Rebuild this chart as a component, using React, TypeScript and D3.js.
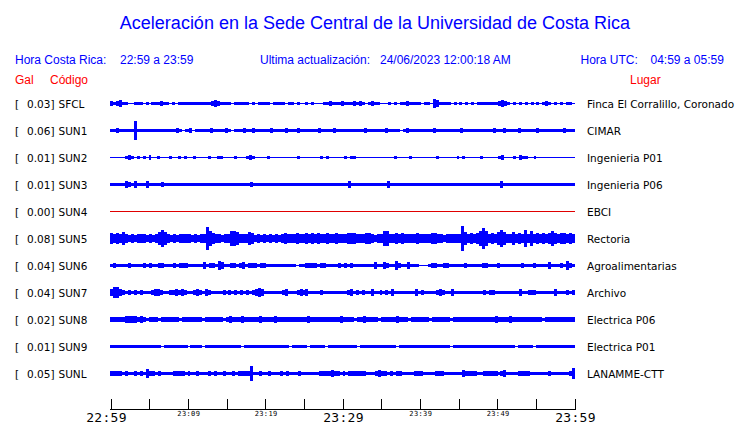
import React from "react";
import * as d3 from "d3";

const W = 740;
const H = 423;

const titleText = "Aceleración en la Sede Central de la Universidad de Costa Rica";
const headerLeftLabel = "Hora Costa Rica:";
const headerLeftValue = "22:59 a 23:59";
const headerMidLabel = "Ultima actualización:";
const headerMidValue = "24/06/2023 12:00:18 AM";
const headerRightLabel = "Hora UTC:";
const headerRightValue = "04:59 a 05:59";

const stations = ["SFCL", "SUN1", "SUN2", "SUN3", "SUN4", "SUN5", "SUN6", "SUN7", "SUN8", "SUN9", "SUNL"];
const peakGal = ["0.03", "0.06", "0.01", "0.01", "0.00", "0.08", "0.04", "0.04", "0.02", "0.01", "0.05"];
const places = [
  "Finca El Corralillo, Coronado",
  "CIMAR",
  "Ingenieria P01",
  "Ingenieria P06",
  "EBCI",
  "Rectoria",
  "Agroalimentarias",
  "Archivo",
  "Electrica P06",
  "Electrica P01",
  "LANAMME-CTT",
];

// Envelope half-amplitudes (px), one character per ~3 px of time, base-36 digits
const envSFCL = [
  "2123110011101011121101011111111111232111101",
  "11110101111011110110100101000112111211121",
  "210121100010101121111011043111101010101",
  "0111111123210101010101012101010110",
];
const envSUN1 = [
  "112111119111111111111121012011111211112",
  "1011121121111121111211121111112111121111",
  "1111121111112111101211111111211111111211",
  "11111111211211112111112111111112111",
];
const envSUN2 = [
  "0000012101010200100010010100100001001100",
  "0010001210000100000000010000000101000001",
  "0110000000000000100001000000001000000101",
  "0000010000012000102110010000000000000",
];
const envSUN3 = [
  "1111132131113111121111111111111111111111",
  "1111111211111111111111111111111111111111",
  "3111111111111311111111111111111111111111",
  "111111111113111111111111111111111111",
];
const envSUN4 = [
  "0000000000000000000000000000000000000000",
  "0000000000000000000000000000000000000000",
  "0000000000000000000000000000000000000000",
  "000000000000000000000000000000000000",
];
const envSUN5 = [
  "5454" + "6" + "43434443434" + "686" + "4343444434344" + "b75" + "44344",
  "776" + "444" + "65" + "343434343" + "4544454" + "454545445" + "4454445",
  "55" + "444" + "55" + "4344" + "77" + "44545444454444" + "55" + "44344444" + "c6",
  "4545" + "7a7" + "454" + "686" + "44" + "6" + "454" + "8" + "4" + "7" + "454545" + "7" + "5455454",
];
const envSUN6 = [
  "1211112111121211221112122211111312214311",
  "2212312221221111111111011222212211112121",
  "211111113113211421131110001221122111112",
  "111112211121111111211121111311121421",
];
const envSUN7 = [
  "3553212121211123321122323211232132111121",
  "2121212123431111112311123231111211111111",
  "23121211311212131111111312111123211311111",
  "111112122111111113112221111113111212",
];
const envSUN8 = [
  "2222233332321222122222212222222122222212",
  "3222322222322223222222222232222222222322",
  "2212232222122222322212222221222222122222",
  "222222222322223222222222212222222222",
];
const envSUN9 = [
  "1111111111111111101111111101111011111111",
  "1111011111111111111101111101111101111111",
  "1110111111111111011111111111111111011111",
  "111111111111111101111101111111111111",
];
const envSUNL = [
  "2222121121214221211112222121121112121121",
  "1212222711211211121211121111112222322121",
  "2222221112322121221111222111122211111132",
  "222112222212311112222111111211111125",
];
const envelopes = [envSFCL, envSUN1, envSUN2, envSUN3, envSUN4, envSUN5, envSUN6, envSUN7, envSUN8, envSUN9, envSUNL];
const traceColors = ["#0000ff", "#0000ff", "#0000ff", "#0000ff", "#e00000", "#0000ff", "#0000ff", "#0000ff", "#0000ff", "#0000ff", "#0000ff"];

const tickMinutes = [0, 5, 10, 15, 20, 25, 30, 35, 40, 45, 50, 55, 60];
const labelMinutes = [0, 10, 20, 30, 40, 50, 60];
const labelTexts = ["22:59", "23:09", "23:19", "23:29", "23:39", "23:49", "23:59"];
const bigLabels = ["22:59", "23:29", "23:59"];

const SANS = "'Liberation Sans', Arial, Helvetica, sans-serif";
const DJ = "'DejaVu Sans', sans-serif";
const MONO = "'DejaVu Sans Mono', monospace";

export default function App() {
  const x0 = 110;
  const x1 = 575;
  const x = d3.scaleLinear().domain([0, 60]).range([x0 + 0.5, x1 - 0.5]);
  const rowY = d3.scalePoint<string>().domain(stations).range([103.5, 373.5]);
  const amp = d3.scaleLinear().domain([0, 12]).range([0, 12]);
  const axisY = 409.5;

  return (
    <svg width={W} height={H} style={{ position: "absolute", left: 0, top: 0, background: "#fff" }}>
      <rect x={0} y={0} width={W} height={H} fill="#fff" />
      <text x={W / 2 + 5} y={29} textAnchor="middle" fontFamily={SANS} fontSize={18} fill="#0000ff">
        {titleText}
      </text>
      <g fontFamily={SANS} fontSize={12} fill="#0000ff">
        <text x={15} y={64}>{headerLeftLabel}</text>
        <text x={120} y={64}>{headerLeftValue}</text>
        <text x={260} y={64}>{headerMidLabel}</text>
        <text x={380} y={64}>{headerMidValue}</text>
        <text x={580.5} y={64}>{headerRightLabel}</text>
        <text x={650.5} y={64}>{headerRightValue}</text>
      </g>
      <g fontFamily={SANS} fontSize={12} fill="#ff0000">
        <text x={15} y={84}>Gal</text>
        <text x={50} y={84}>Código</text>
        <text x={630} y={84}>Lugar</text>
      </g>

      {stations.map((code, i) => {
        const yc = rowY(code) as number;
        const vals = envelopes[i].join("").split("").map((c) => parseInt(c, 36));
        const n = vals.length;
        const xs = d3.scaleLinear().domain([0, n]).range([x0, x1]);
        const pts = vals.map((v, j) => ({ j, v })).concat([{ j: n, v: vals[n - 1] }]);
        const area = d3
          .area<{ j: number; v: number }>()
          .x((d) => xs(d.j))
          .y0((d) => yc - amp(d.v) - 0.5)
          .y1((d) => yc + amp(d.v) + 0.5)
          .curve(d3.curveStepAfter);
        return (
          <g key={code}>
            <path d={area(pts) || ""} fill={traceColors[i]} shapeRendering="crispEdges" />
            <g fontFamily={DJ} fontSize={10.5} fill="#000">
              <text x={15} y={yc + 4}>[</text>
              <text x={27} y={yc + 4}>{peakGal[i] + "]"}</text>
              <text x={58.5} y={yc + 4}>{code}</text>
              <text x={587} y={yc + 4}>{places[i]}</text>
            </g>
          </g>
        );
      })}

      <g stroke="#000" strokeWidth={1} shapeRendering="crispEdges">
        <line x1={x0} x2={x1} y1={axisY} y2={axisY} />
        {tickMinutes.map((m) => (
          <line key={m} x1={Math.round(x(m)) + 0.5} x2={Math.round(x(m)) + 0.5} y1={399} y2={axisY} />
        ))}
      </g>
      <g fill="#000">
        {labelMinutes.map((m, k) => {
          const big = bigLabels.includes(labelTexts[k]);
          return (
            <text
              key={m}
              x={x(m) + (k === 0 ? -4 : 1)}
              y={big ? 421.5 : 415.5}
              textAnchor="middle"
              fontFamily={MONO}
              fontSize={big ? 13 : 7}
              letterSpacing={big ? 0.3 : 0.4}
            >
              {labelTexts[k]}
            </text>
          );
        })}
      </g>
    </svg>
  );
}
